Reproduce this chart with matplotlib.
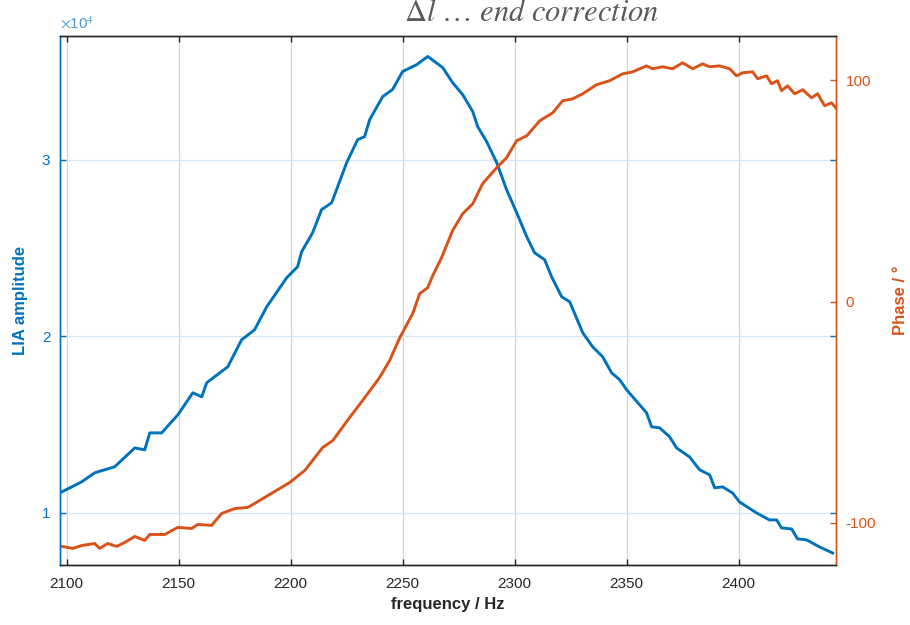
import numpy as np
import matplotlib
matplotlib.use('Agg')
import matplotlib.pyplot as plt
from matplotlib.ticker import FuncFormatter

# LIA amplitude (raw counts) vs frequency
freq_amp = [2096.9, 2106.7, 2112.5, 2121.4, 2130.4, 2134.8, 2137.1, 2142.4, 2149.6, 2156.3,
            2160.3, 2162.5, 2171.9, 2178.1, 2183.9, 2189.3, 2198.2, 2203.1, 2204.9, 2209.8,
            2213.8, 2218.3, 2225.0, 2229.9, 2233.0, 2235.3, 2241.1, 2245.5, 2250.0, 2256.3,
            2261.2, 2267.9, 2272.3, 2276.8, 2281.3, 2283.5, 2287.5, 2292.0, 2296.4, 2300.9,
            2305.4, 2308.9, 2313.4, 2316.5, 2321.0, 2324.6, 2330.4, 2334.8, 2339.3, 2343.3,
            2346.9, 2350.0, 2358.9, 2361.2, 2364.7, 2369.2, 2372.3, 2378.1, 2382.6, 2387.1,
            2389.3, 2392.9, 2397.3, 2400.4, 2408.0, 2413.8, 2417.0, 2419.2, 2423.7, 2426.3,
            2430.4, 2436.2, 2442.0]
amp = [11130, 11760, 12270, 12610, 13680, 13570, 14530, 14530, 15550, 16800,
       16570, 17370, 18270, 19800, 20370, 21670, 23310, 23940, 24790, 25860,
       27170, 27560, 29830, 31130, 31300, 32270, 33570, 33970, 34990, 35380,
       35840, 35210, 34360, 33680, 32720, 31870, 31020, 29830, 28300, 27000,
       25640, 24730, 24330, 23370, 22240, 21950, 20200, 19410, 18840, 17930,
       17540, 16970, 15670, 14870, 14820, 14310, 13680, 13170, 12440, 12150,
       11420, 11470, 11130, 10620, 10000, 9600, 9600, 9150, 9090, 8530,
       8470, 8070, 7730]

# phase vs frequency
freq_ph = [2097.8, 2102.7, 2106.7, 2112.5, 2114.7, 2118.3, 2122.3, 2125.9, 2130.4, 2134.8,
           2137.1, 2143.8, 2149.6, 2155.8, 2158.5, 2164.7, 2169.2, 2175.0, 2180.8, 2183.9,
           2199.6, 2206.3, 2214.3, 2218.8, 2226.3, 2232.1, 2239.7, 2244.2, 2248.7, 2254.5,
           2257.6, 2261.2, 2263.4, 2267.4, 2272.3, 2276.8, 2281.3, 2285.7, 2292.0, 2296.4,
           2300.9, 2305.4, 2311.2, 2317.0, 2321.4, 2325.9, 2330.4, 2336.6, 2342.4, 2348.2,
           2352.7, 2358.9, 2361.6, 2366.1, 2370.5, 2375.0, 2379.5, 2383.9, 2387.1, 2391.5,
           2396.0, 2399.1, 2401.8, 2406.3, 2408.5, 2412.5, 2414.7, 2417.4, 2419.2, 2421.9,
           2425.0, 2428.6, 2432.6, 2435.3, 2438.4, 2441.5, 2443.8]
phase = [-110.6, -111.5, -110.2, -109.3, -111.5, -109.3, -110.6, -108.8, -106.1, -107.9,
         -105.2, -105.2, -102.0, -102.5, -100.7, -101.1, -95.7, -93.5, -93.0, -91.2,
         -81.7, -76.3, -65.9, -62.8, -52.4, -44.7, -34.3, -26.6, -16.3, -5.4,
         3.6, 6.3, 11.7, 19.9, 32.1, 39.7, 44.2, 53.3, 60.5, 65.0,
         72.7, 74.9, 81.7, 85.3, 90.7, 91.6, 93.9, 98.0, 99.8, 102.9,
         103.8, 106.5, 105.2, 106.1, 105.2, 107.9, 105.2, 107.4, 106.1, 106.5,
         105.2, 102.0, 103.4, 103.8, 100.7, 102.0, 98.4, 99.8, 95.3, 97.5,
         93.9, 95.7, 92.1, 93.9, 88.5, 89.8, 87.1]

xticks = [2100, 2150, 2200, 2250, 2300, 2350, 2400]
amp_ticks = [10000, 20000, 30000]
phase_ticks = [-100, 0, 100]

BLUE = '#0072BD'
ORANGE = '#D95319'
DARK = '#262626'

plt.rcParams['font.family'] = ['Liberation Sans', 'DejaVu Sans']
plt.rcParams['mathtext.fontset'] = 'stix'
plt.rcParams['axes.unicode_minus'] = False

fig = plt.figure(figsize=(9.1, 6.25), dpi=100)
ax = fig.add_axes([60 / 910, 1 - 565 / 625, 776 / 910, 529 / 625])
ax2 = ax.twinx()

ax.plot(freq_amp, amp, color=BLUE, lw=2.1)
ax2.plot(freq_ph, phase, color=ORANGE, lw=2.1)

ax.set_xlim(2097, 2443.5)
ax.set_ylim(7050, 37000)
ax2.set_ylim(-119, 120)

ax.set_xticks(xticks)
ax.set_yticks(amp_ticks)
ax2.set_yticks(phase_ticks)
ax.yaxis.set_major_formatter(FuncFormatter(lambda v, p: '%g' % (v / 1e4)))

# grid: grey verticals, light blue horizontals
ax.grid(True, axis='x', color='#d4d4d4', lw=0.9)
ax.grid(True, axis='y', color='#d6e6f4', lw=0.9)
ax.set_axisbelow(True)

ax.tick_params(axis='x', direction='in', top=True, length=4, width=1,
               color=DARK, labelcolor=DARK, labelsize=11, pad=9)
ax.tick_params(axis='y', direction='in', right=True, length=4, width=1,
               color=BLUE, labelcolor=BLUE, labelsize=11, pad=7)
ax2.tick_params(axis='y', direction='in', length=4, width=1,
                color=ORANGE, labelcolor=ORANGE, labelsize=11, pad=7)

for a in (ax, ax2):
    a.spines['top'].set_color(DARK)
    a.spines['bottom'].set_color(DARK)
    a.spines['left'].set_color(BLUE)
    a.spines['right'].set_color(ORANGE)
    for s in a.spines.values():
        s.set_linewidth(1.0)

ax.set_xlabel('frequency / Hz', fontsize=12, fontweight='bold', color=DARK, labelpad=4)
ax.set_ylabel('LIA amplitude', fontsize=12, fontweight='bold', color=BLUE, labelpad=10)
ax2.set_ylabel('Phase / °', fontsize=12, fontweight='bold', color=ORANGE, labelpad=12)

ax.text(0.0, 1.008, r'$\times$10$^{4}$', transform=ax.transAxes, color='#4a9bd6',
        fontsize=11, ha='left', va='bottom')

fig.text(532 / 910, 1 - 21 / 625, r'$\Delta l\ \ldots\ end\ correction$',
         ha='center', va='baseline', fontsize=22, color='#5a5a5a')

fig.savefig('out.png', dpi=100)
